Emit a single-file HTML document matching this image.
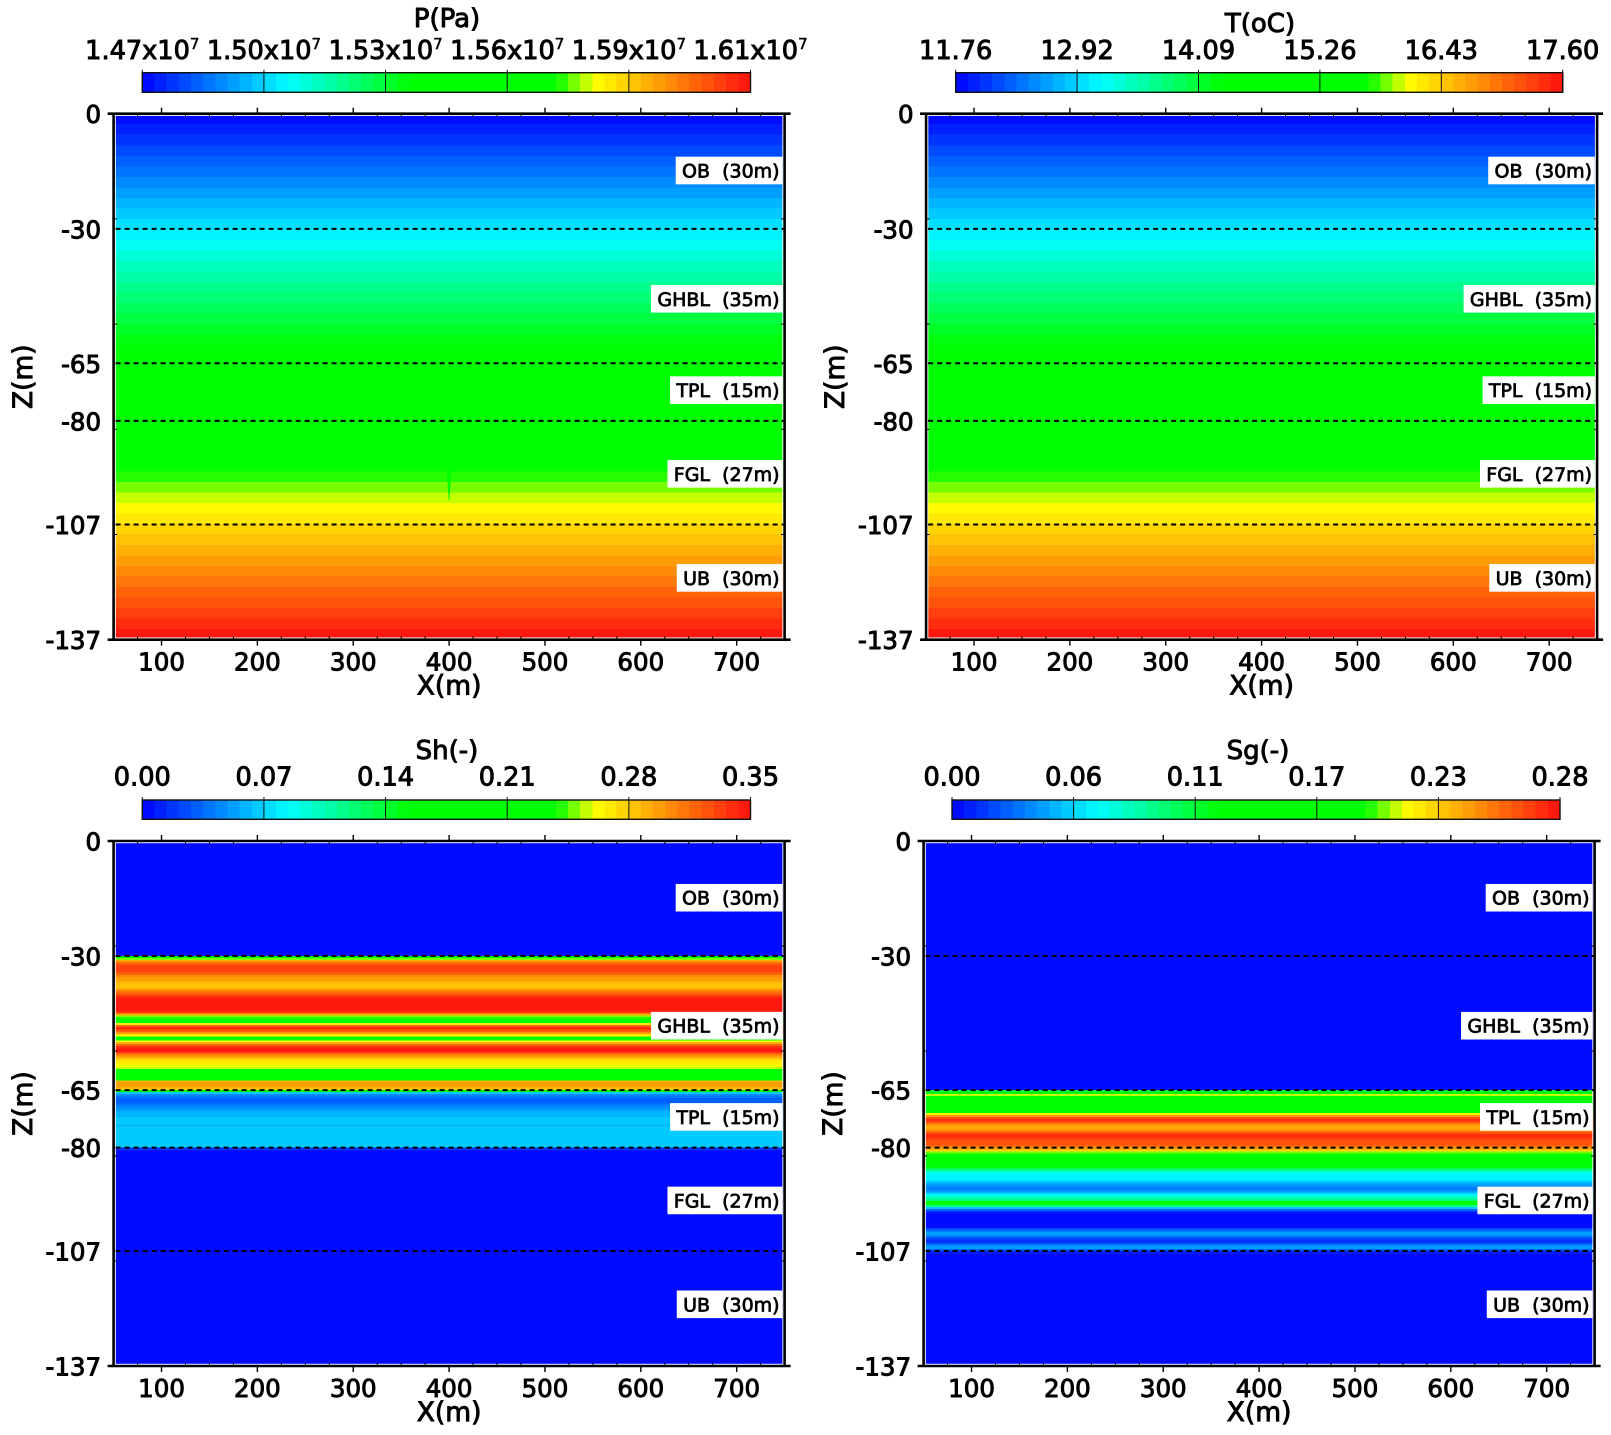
<!DOCTYPE html>
<html lang="en">
<head>
<meta charset="utf-8">
<title>Reservoir property sections</title>
<style>
html,body{margin:0;padding:0;background:#fff;}
svg{display:block;}
text{font-family:"DejaVu Sans","Liberation Sans",sans-serif;font-size:24.5px;fill:#000;stroke:#000;stroke-width:.95px;white-space:pre;}
.layer{font-size:19px;stroke-width:.75px;}
.bar-text{font-size:25.6px;}
.title-text{font-size:26px;}
.axis-title{font-size:26.5px;}
.sup{font-size:15px;stroke-width:.5px;}
</style>
</head>
<body>
<svg id="figure" xmlns="http://www.w3.org/2000/svg" width="1611" height="1435" viewBox="0 0 1611 1435">
  <rect x="0" y="0" width="1611" height="1435" fill="#fff"/>
  <g id="panel-p"></g>
  <g id="panel-t"></g>
  <g id="panel-sh"></g>
  <g id="panel-sg"></g>
</svg>
<script>
// ---- axis data ----
const xMajorTicks = [100, 200, 300, 400, 500, 600, 700];
const xMinorTicks = [75, 125, 150, 175, 225, 250, 275, 325, 350, 375, 425, 450, 475, 525, 550, 575, 625, 650, 675, 725];
const yLabelTicks = [0, -30, -65, -80, -107, -137];
const yMinorTicks = [-27.4, -54.8, -82.2, -109.6];
const layerBoundaries = [-30, -65, -80, -107];
const layerNames = ['OB  (30m)', 'GHBL  (35m)', 'TPL  (15m)', 'FGL  (27m)', 'UB  (30m)'];
const layerLabelDepths = [14.8, 48.2, 72, 93.8, 120.9];

// ---- colour-bar labels ----
const pBarLabels = ['1.47', '1.50', '1.53', '1.56', '1.59', '1.61'];
const tBarLabels = ['11.76', '12.92', '14.09', '15.26', '16.43', '17.60'];
const shBarLabels = ['0.00', '0.07', '0.14', '0.21', '0.28', '0.35'];
const sgBarLabels = ['0.00', '0.06', '0.11', '0.17', '0.23', '0.28'];

// ---- series: pressure (MPa), one value per contour band ----
const pRange = [14.70, 16.10];
const pValues = [14.714,14.742,14.770,14.798,14.826,14.854,14.882,14.910,14.938,14.966,
14.994,15.022,15.050,15.078,15.106,15.134,15.162,15.190,15.218,15.246,
15.274,15.302,15.330,15.358,15.386,15.414,15.442,15.470,15.498,15.526,
15.554,15.582,15.610,15.638,15.666,15.694,15.722,15.750,15.778,15.806,
15.834,15.862,15.890,15.918,15.946,15.974,16.002,16.030,16.058,16.086];
const pAnomalyX = 400;
const pAnomalyDepths = [93, 94.5, 96, 97.5, 99];
const pAnomalyValues = [15.57, 15.57, 15.58, 15.60, 15.66];
const pAnomalyWidths = [5, 4, 3, 2, 1.5];

// ---- series: temperature (deg C) ----
const tRange = [11.76, 17.60];
const tValues = [11.818,11.935,12.052,12.169,12.286,12.402,12.519,12.636,12.753,12.870,
12.986,13.103,13.220,13.337,13.454,13.570,13.687,13.804,13.921,14.038,
14.154,14.271,14.388,14.505,14.622,14.738,14.855,14.972,15.089,15.206,
15.322,15.439,15.556,15.673,15.790,15.906,16.023,16.140,16.257,16.374,
16.490,16.607,16.724,16.841,16.958,17.074,17.191,17.308,17.425,17.542];

// ---- series: hydrate saturation, every 0.5 m from 30 m depth ----
const shRange = [0, 0.35];
const shValues = [.15,.25,.29,.31,.325,.33,.332,.33,.325,.315,
.305,.30,.295,.29,.285,.282,.285,.295,.31,.32,
.33,.338,.343,.347,.348,.348,.348,.347,.345,.335,
.29,.25,.205,.195,.205,.27,.32,.342,.335,.315,
.29,.26,.22,.205,.26,.29,.32,.34,.347,.345,
.33,.31,.295,.28,.27,.266,.264,.263,.258,.22,
.195,.195,.195,.195,.205,.29,.295,.295,.29,.28,
.18,.065,.048,.038,.033,.03,.033,.038,.043,.048,
.054,.057,.06,.062,.065,.065,.065,.063,.062,.063,
.065,.066,.066,.066,.066,.066,.066,.066,.066,.066,.02];

// ---- series: gas saturation, every 0.5 m from 65 m depth ----
const sgRange = [0, 0.28];
const sgValues = [.11,.18,.205,.165,.154,.154,.154,.154,.154,.154,
.156,.165,.212,.24,.262,.272,.268,.25,.24,.235,
.237,.25,.262,.272,.274,.266,.262,.26,.258,.25,
.24,.22,.20,.16,.154,.154,.154,.152,.15,.14,
.12,.10,.08,.07,.066,.066,.064,.058,.05,.042,
.035,.03,.035,.05,.065,.078,.085,.10,.125,.125,
.09,.055,.025,.012,.003,0,0,0,0,0,
0,.004,.018,.032,.042,.042,.03,.018,.012,.014,
.03,.042,.042,.025,.008];

// ---- colour map ----
const colorStops = [[0, [0, 0, 255]], [0.24, [0, 255, 255]], [0.44, [0, 255, 0]], [0.68, [0, 255, 0]], [0.745, [255, 255, 0]], [1, [255, 16, 16]]];
const colorLevels = 50;

function colorAt(t) {
  const level = Math.max(0, Math.min(colorLevels - 1, Math.floor(t * colorLevels)));
  const u = (level + 0.5) / colorLevels;
  for (let i = 1; i < colorStops.length; i++) {
    if (u <= colorStops[i][0]) {
      const a = colorStops[i - 1], b = colorStops[i];
      const f = (u - a[0]) / (b[0] - a[0]);
      const c = a[1].map((v, k) => Math.round(v + (b[1][k] - v) * f));
      return 'rgb(' + c.join(',') + ')';
    }
  }
  return 'rgb(255,16,16)';
}

const NS = 'http://www.w3.org/2000/svg';
function make(parent, tag, attrs) {
  const el = document.createElementNS(NS, tag);
  for (const key in attrs) el.setAttribute(key, attrs[key]);
  parent.appendChild(el);
  return el;
}

const panels = [
  {id: 'panel-p', title: 'P(Pa)', barLabels: pBarLabels, sup: true, values: pValues, range: pRange, firstDepth: 0, rowStep: 2.74, hasBase: false,
   xL: 113.6, xR: 784.6, yT: 113.7, yB: 639.7, barL: 142.3, barR: 750.5, barT: 72.7, barB: 92.3, titleX: 447, titleY: 27, barLabelY: 59, zX: 32},
  {id: 'panel-t', title: 'T(oC)', barLabels: tBarLabels, sup: false, values: tValues, range: tRange, firstDepth: 0, rowStep: 2.74, hasBase: false,
   xL: 926.1, xR: 1597.1, yT: 113.7, yB: 639.7, barL: 955.7, barR: 1562.7, barT: 72.7, barB: 92.3, titleX: 1260, titleY: 32, barLabelY: 59, zX: 844},
  {id: 'panel-sh', title: 'Sh(-)', barLabels: shBarLabels, sup: false, values: shValues, range: shRange, firstDepth: 30, rowStep: 0.5, hasBase: true,
   xL: 113.6, xR: 784.6, yT: 841, yB: 1366, barL: 142.3, barR: 750.5, barT: 800, barB: 819.3, titleX: 447, titleY: 759, barLabelY: 785.7, zX: 32},
  {id: 'panel-sg', title: 'Sg(-)', barLabels: sgBarLabels, sup: false, values: sgValues, range: sgRange, firstDepth: 65, rowStep: 0.5, hasBase: true,
   xL: 923.6, xR: 1594.6, yT: 841, yB: 1366, barL: 952, barR: 1560, barT: 800, barB: 819.3, titleX: 1258, titleY: 759, barLabelY: 785.7, zX: 842}
];

panels.forEach(function (p) {
  const root = document.getElementById(p.id);
  const xScale = function (v) { return p.xL + (v - 50) * (p.xR - p.xL) / 700; };
  const yScale = function (z) { return p.yT + (-z) * (p.yB - p.yT) / 137; };
  const norm = function (v) { return (v - p.range[0]) / (p.range[1] - p.range[0]); };

  // title
  const title = make(root, 'text', {x: p.titleX, y: p.titleY, 'text-anchor': 'middle', class: 'title-text'});
  
  
  title.textContent = p.title;

  // colour bar cells
  const cellW = (p.barR - p.barL) / colorLevels;
  for (let i = 0; i < colorLevels; i++) {
    const cell = make(root, 'rect', {x: p.barL + i * cellW, y: p.barT, width: cellW + 0.6, height: p.barB - p.barT, fill: colorAt((i + 0.5) / colorLevels), 'shape-rendering': 'crispEdges'});
    
    
  }
  const barFrame = make(root, 'rect', {x: p.barL, y: p.barT, width: p.barR - p.barL, height: p.barB - p.barT, fill: 'none', stroke: '#111', 'stroke-width': 1.4});
  
  

  // colour bar ticks and labels
  p.barLabels.forEach(function (label, i) {
    const bx = p.barL + i * (p.barR - p.barL) / (p.barLabels.length - 1);
    const tick = make(root, 'line', {x1: bx, x2: bx, y1: p.barT - 3, y2: p.barB, stroke: '#111', 'stroke-width': 1});
    
    
    const text = make(root, 'text', {x: bx, y: p.barLabelY, 'text-anchor': 'middle', class: 'bar-text'});
    
    
    text.appendChild(document.createTextNode(label + (p.sup ? 'x10' : '')));
    if (p.sup) {
      const sup = make(text, 'tspan', {dy: -10, class: 'sup'});
      
      
      sup.textContent = '7';
    }
  });

  // heat map rows
  if (p.hasBase) {
    const base = make(root, 'rect', {x: xScale(50), y: yScale(0), width: xScale(750) - xScale(50), height: yScale(-137) - yScale(0), fill: colorAt(norm(p.range[0])), 'shape-rendering': 'crispEdges'});
    
    
  }
  p.values.forEach(function (v, i) {
    const top = yScale(-(p.firstDepth + i * p.rowStep));
    const bottom = yScale(-(p.firstDepth + (i + 1) * p.rowStep));
    const row = make(root, 'rect', {x: xScale(50), y: top, width: xScale(750) - xScale(50), height: bottom - top + 0.6, fill: colorAt(norm(v)), 'shape-rendering': 'crispEdges'});
    
    
  });

  // localized pressure anomaly
  if (p.id === 'panel-p') {
    pAnomalyDepths.forEach(function (d, i) {
      const w = xScale(pAnomalyX + pAnomalyWidths[i] / 2) - xScale(pAnomalyX - pAnomalyWidths[i] / 2);
      const cell = make(root, 'rect', {x: xScale(pAnomalyX) - w / 2, y: yScale(-d), width: w, height: yScale(-1.5) - yScale(0), fill: colorAt(norm(pAnomalyValues[i]))});
      
      
    });
  }

  // white gutter between data and axes
  const gutter = make(root, 'rect', {x: p.xL, y: p.yT, width: p.xR - p.xL, height: p.yB - p.yT, fill: 'none', stroke: '#fff', 'stroke-width': 4.4});
  
  

  // layer boundaries
  layerBoundaries.forEach(function (z) {
    const line = make(root, 'line', {x1: p.xL + 2, x2: p.xR - 1, y1: yScale(z), y2: yScale(z), stroke: '#000', 'stroke-width': 2, 'stroke-dasharray': '5 4'});
    
    
  });

  // layer labels
  layerNames.forEach(function (name, i) {
    const cy = yScale(-layerLabelDepths[i]);
    const box = make(root, 'rect', {x: p.xR - 40, y: cy - 13.8, width: 38, height: 27.6, fill: '#fff'});
    
    
    const text = make(root, 'text', {x: p.xR - 5, y: cy + 7, 'text-anchor': 'end', class: 'layer'});
    
    
    text.textContent = name;
    const w = text.getComputedTextLength() + 9;
    box.setAttribute('x', p.xR - 2.3 - w);
    box.setAttribute('width', w);
  });

  // axes
  const axisStyle = {stroke: '#000', 'stroke-width': 2.6};
  const topAxis = make(root, 'line', Object.assign({x1: p.xL - 6, x2: p.xR + 6, y1: p.yT, y2: p.yT}, axisStyle));
  
  
  const bottomAxis = make(root, 'line', Object.assign({x1: p.xL - 6, x2: p.xR + 6, y1: p.yB, y2: p.yB}, axisStyle));
  
  
  const leftAxis = make(root, 'line', Object.assign({x1: p.xL, x2: p.xL, y1: p.yT, y2: p.yB}, axisStyle));
  
  
  const rightAxis = make(root, 'line', Object.assign({x1: p.xR, x2: p.xR, y1: p.yT, y2: p.yB}, axisStyle));
  
  

  // x ticks
  xMajorTicks.forEach(function (v) {
    const x = xScale(v);
    const upper = make(root, 'line', {x1: x, x2: x, y1: p.yT - 6, y2: p.yT, stroke: '#000', 'stroke-width': 1.4});
    
    
    const lower = make(root, 'line', {x1: x, x2: x, y1: p.yB, y2: p.yB + 6, stroke: '#000', 'stroke-width': 1.4});
    
    
    const label = make(root, 'text', {x: x, y: p.yB + 31, 'text-anchor': 'middle'});
    
    
    label.textContent = v;
  });
  xMinorTicks.forEach(function (v) {
    const x = xScale(v);
    const upper = make(root, 'line', {x1: x, x2: x, y1: p.yT, y2: p.yT + 3.5, stroke: '#000', 'stroke-width': 1});
    
    
    const lower = make(root, 'line', {x1: x, x2: x, y1: p.yB - 3.5, y2: p.yB, stroke: '#000', 'stroke-width': 1});
    
    
  });

  // y ticks
  yMinorTicks.forEach(function (z) {
    const y = yScale(z);
    const left = make(root, 'line', {x1: p.xL, x2: p.xL + 3.5, y1: y, y2: y, stroke: '#000', 'stroke-width': 1});
    
    
    const right = make(root, 'line', {x1: p.xR - 3.5, x2: p.xR, y1: y, y2: y, stroke: '#000', 'stroke-width': 1});
    
    
  });
  yLabelTicks.forEach(function (z) {
    const label = make(root, 'text', {x: p.xL - 12.5, y: yScale(z) + 9.5, 'text-anchor': 'end'});
    
    
    label.textContent = z;
  });

  // axis titles
  const xTitle = make(root, 'text', {x: (p.xL + p.xR) / 2, y: p.yB + 55, 'text-anchor': 'middle', class: 'axis-title'});
  
  
  xTitle.textContent = 'X(m)';
  const yMid = (p.yT + p.yB) / 2;
  const yTitle = make(root, 'text', {x: p.zX, y: yMid, 'text-anchor': 'middle', class: 'axis-title', transform: 'rotate(-90 ' + p.zX + ' ' + yMid + ')'});
  
  
  yTitle.textContent = 'Z(m)';
});
</script>
</body>
</html>
